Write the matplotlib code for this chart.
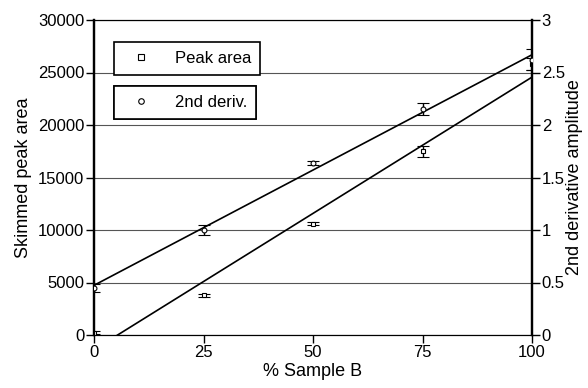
import numpy as np
import matplotlib.pyplot as plt
from matplotlib.lines import Line2D

plt.rcParams['font.family'] = ['Liberation Sans', 'DejaVu Sans']
plt.rcParams['font.size'] = 12

sample_b = [0, 25, 50, 75, 100]
peak_area = [200, 3800, 10600, 17500, 25800]
peak_err = [150, 150, 150, 500, 600]
deriv2 = [0.45, 1.0, 1.635, 2.15, 2.62]
deriv2_err = [0.04, 0.05, 0.02, 0.055, 0.1]

fig = plt.figure(figsize=(5.88, 3.88), dpi=100)
ax = fig.add_axes([94/588, 53/388, 438/588, 315/388])
ax2 = ax.twinx()

x = np.array(sample_b, dtype=float)
xl = np.array([0, 100])

# peak area on left axis
ax.errorbar(sample_b, peak_area, yerr=peak_err, fmt='s', ms=3.5, mfc='white',
            mec='black', mew=0.8, ecolor='black', elinewidth=1, capsize=4,
            capthick=1, zorder=3)
p = np.polyfit(x, peak_area, 1)
ax.plot(xl, np.polyval(p, xl), color='black', lw=1.2, zorder=2)

# 2nd derivative on right axis
ax2.errorbar(sample_b, deriv2, yerr=deriv2_err, fmt='o', ms=3.5, mfc='white',
             mec='black', mew=0.8, ecolor='black', elinewidth=1, capsize=4,
             capthick=1, zorder=3)
q = np.polyfit(x, deriv2, 1)
ax2.plot(xl, np.polyval(q, xl), color='black', lw=1.2, zorder=2)

ax.set_xlim(0, 100)
ax.set_ylim(0, 30000)
ax2.set_ylim(0, 3)
ax.set_xticks(sample_b)
ax.set_yticks(range(0, 30001, 5000))
ax2.set_yticks([0, 0.5, 1, 1.5, 2, 2.5, 3])
ax2.set_yticklabels(['0', '0.5', '1', '1.5', '2', '2.5', '3'])
ax.yaxis.grid(True, color='#555555', lw=0.8)
ax.set_axisbelow(True)

for a in (ax, ax2):
    a.tick_params(direction='out', length=6, width=1, pad=1, labelsize=12)
    for s in a.spines.values():
        s.set_linewidth(0.8)
    a.spines['left'].set_linewidth(1.6)
    a.spines['right'].set_linewidth(1.6)

ax.set_xlabel('% Sample B', labelpad=2, fontsize=13)
ax.set_ylabel('Skimmed peak area', labelpad=4, fontsize=13)
ax2.set_ylabel('2nd derivative amplitude', labelpad=1, fontsize=13)

h1 = Line2D([], [], ls='none', marker='s', ms=4, mfc='white', mec='black', mew=0.8)
h2 = Line2D([], [], ls='none', marker='o', ms=4, mfc='white', mec='black', mew=0.8)
for h, lab, yy in [(h1, 'Peak area', 0.93), (h2, '2nd deriv.', 0.79)]:
    leg = ax2.legend([h], [lab], loc='upper left', bbox_to_anchor=(0.045, yy),
                     frameon=True, fancybox=False, edgecolor='black',
                     framealpha=1, borderpad=0.55, handletextpad=0.9,
                     handlelength=2.2, borderaxespad=0, fontsize=12)
    leg.get_frame().set_linewidth(1.2)
    ax2.add_artist(leg)

fig.savefig('out.png', dpi=100)
